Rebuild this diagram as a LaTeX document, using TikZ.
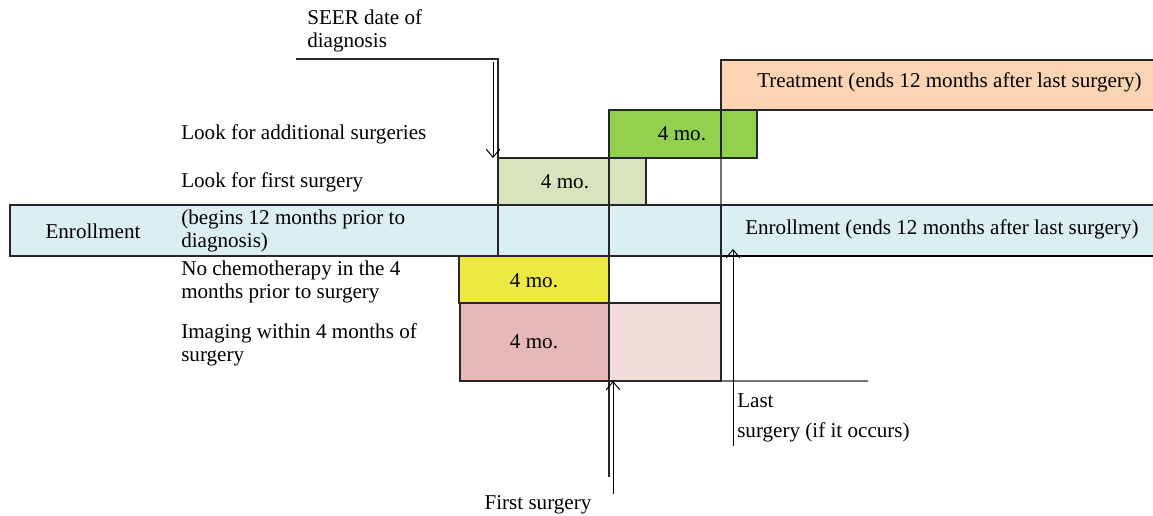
\documentclass[tikz,border=0pt]{standalone}
\usepackage{fontspec}
\setmainfont{Liberation Serif}
\usetikzlibrary{arrows.meta, positioning, calc}

\definecolor{enrolblue}{HTML}{DAEEF3}
\definecolor{firstgreen}{HTML}{D7E4BD}
\definecolor{addgreen}{HTML}{92D050}
\definecolor{treatorange}{HTML}{FBD4B4}
\definecolor{chemoyellow}{HTML}{EEE842}
\definecolor{imgpink}{HTML}{E6B8B7}
\definecolor{imgpinklt}{HTML}{F2DCDB}

\begin{document}
\begin{tikzpicture}[
    x=0.025cm, y=-0.025cm,
    font=\fontsize{15}{16.5}\selectfont,
    seg/.style={draw=black!85, line width=0.9pt, inner sep=0, outer sep=0,
      anchor=north west},
    lbl/.style={inner sep=0, anchor=west, align=left},
    mo/.style={inner sep=0},
    rule/.style={draw=black!85, line width=0.9pt},
    arr/.style={-{Straight Barb[length=2mm, width=3.4mm]}, line width=0.7pt}
  ]
  \useasboundingbox (0,0) rectangle (1153,515);

  % enrollment bar
  \node[seg, fill=enrolblue, minimum width=12.2cm, minimum height=1.275cm] (enrA) at (10,205) {};
  \node[seg, fill=enrolblue, minimum width=2.775cm, minimum height=1.275cm] (enrB) at (498,205) {};
  \node[seg, fill=enrolblue, minimum width=2.8cm, minimum height=1.275cm] (enrC) at (609,205) {};
  \node[seg, fill=enrolblue, minimum width=11cm, minimum height=1.275cm] (enrD) at (721,205) {};
  \draw[line width=1.4pt] (enrD.south west) -- (enrD.south east);

  % surgery windows and treatment
  \node[seg, fill=firstgreen, minimum width=2.775cm, minimum height=1.175cm] (fs1) at (498,158) {};
  \node[seg, fill=firstgreen, minimum width=0.925cm, minimum height=1.175cm] (fs2) at (609,158) {};
  \node[seg, fill=addgreen, minimum width=2.8cm, minimum height=1.2cm] (as1) at (609,110) {};
  \node[seg, fill=addgreen, minimum width=0.9cm, minimum height=1.2cm] (as2) at (721,110) {};
  \node[seg, fill=treatorange, minimum width=11cm, minimum height=1.25cm] (treat) at (721,60) {};

  % chemo and imaging windows
  \node[seg, fill=chemoyellow, minimum width=3.75cm, minimum height=1.175cm] (chemo) at (459,256) {};
  \node[seg, fill=white, minimum width=2.8cm, minimum height=1.175cm] (gap) at (609,256) {};
  \node[seg, fill=imgpink, minimum width=3.725cm, minimum height=1.95cm] (img1) at (460,303) {};
  \node[seg, fill=imgpinklt, minimum width=2.8cm, minimum height=1.95cm] (img2) at (609,303) {};

  \node[mo] (fsmo) at (565,182) {4 mo.};
  \node[mo] (asmo) at (682,134) {4 mo.};
  \node[mo] (chemomo) at (534,281) {4 mo.};
  \node[mo] (imgmo) at (534,342) {4 mo.};

  % labels
  \node[lbl] (seer) at (307,31) {SEER date of\\diagnosis};
  \node[lbl] (addlbl) at (181,134) {Look for additional surgeries};
  \node[lbl] (firstlbl) at (181,182) {Look for first surgery};
  \node[mo] (enrlbl) at (93,231) {Enrollment};
  \node[lbl] (beginlbl) at (181,231) {(begins 12 months prior to\\diagnosis)};
  \node[lbl] (chemolbl) at (181,282) {No chemotherapy in the 4\\months prior to surgery};
  \node[lbl] (imglbl) at (181,345) {Imaging within 4 months of\\surgery};
  \node[lbl] (treatlbl) at (757,82) {Treatment (ends 12 months after last surgery)};
  \node[lbl] (endlbl) at (745,229) {Enrollment (ends 12 months after last surgery)};
  \node[lbl, font=\fontsize{15}{21}\selectfont] (lastlbl) at (737,418) {Last\\surgery (if it occurs)};
  \node[mo] (firstsurg) at (538,505) {First surgery};

  % time lines and arrows
  \coordinate (seerstart) at (296,59);
  \coordinate (seertail) at (493,62);
  \coordinate (fsline) at (609,477);
  \coordinate (fstail) at (613,494);
  \coordinate (lasttail) at (733,446);
  \coordinate (tlend) at (868,381);

  \draw[rule] (seerstart) -- (fs1.north west |- seerstart) -- (fs1.north west);
  \draw[arr] (seertail) -- (seertail |- fs1.north);
  \draw[rule] (as1.north west) -- (fsline);
  \draw[arr] (fstail) -- (img2.south west -| fstail);
  \draw[rule] (as1.north east) -- (img2.south east) -- (tlend);
  \draw[arr] (lasttail) -- ([yshift=5pt]enrD.south -| lasttail);
\end{tikzpicture}
\end{document}
